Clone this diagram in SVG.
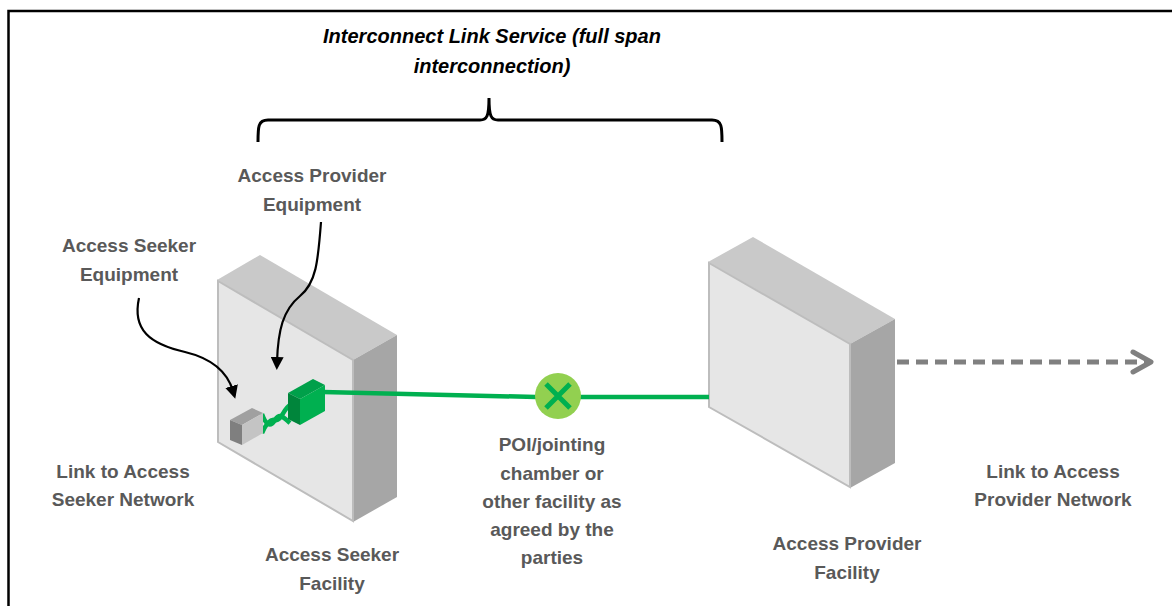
<svg xmlns="http://www.w3.org/2000/svg" width="1172" height="606" viewBox="0 0 1172 606">
  <style>
    .lbl { font-family: "Liberation Sans", Arial, sans-serif; font-weight: bold; font-size: 19px; fill: #595959; text-anchor: middle; }
    .title { font-family: "Liberation Sans", Arial, sans-serif; font-weight: bold; font-style: italic; font-size: 20px; fill: #000; text-anchor: middle; }
    .front { fill: #e6e6e6; stroke: #bdbdbd; stroke-width: 2; }
    .top { fill: #c9c9c9; }
    .side { fill: #a6a6a6; }
    .callout { fill: none; stroke: #000; stroke-width: 2.2; }
    .lead { fill: none; stroke: #00b050; stroke-width: 4.5; }
  </style>
  <defs>
    <marker id="ah" markerWidth="13" markerHeight="13" refX="5" refY="6.5" orient="auto" markerUnits="userSpaceOnUse" viewBox="0 0 13 13">
      <path d="M0,0 L13,6.5 L0,13 Z" fill="#000"/>
    </marker>
  </defs>

  <rect width="1172" height="606" fill="#fff"/>
  <!-- outer frame -->
  <path d="M8.5,606 L8.5,11 L1172,11" fill="none" stroke="#000" stroke-width="2.5"/>

  <!-- service span brace and title -->
  <g id="service">
    <text class="title" x="492" y="43">Interconnect Link Service (full span</text>
    <text class="title" x="492" y="73">interconnection)</text>
    <path d="M258,142 C258,127 258,120 268,120 L480,120 C487,120 489,116 489,98 C489,116 491,120 498,120 L712,120 C722,120 722,127 722,142" fill="none" stroke="#000" stroke-width="3"/>
  </g>

  <!-- seeker facility cabinet -->
  <g id="seeker-facility">
    <polygon class="top" points="217,280 260,255 397,335 353,360"/>
    <polygon class="side" points="353,360 397,335 397,497 353,522"/>
    <polygon class="front" points="218,281 353,360 353,521 218,442"/>
    <text class="lbl" x="332" y="561">Access Seeker</text>
    <text class="lbl" x="332" y="590">Facility</text>
  </g>

  <!-- provider facility cabinet -->
  <g id="provider-facility">
    <polygon class="top" points="708,262 753,237 895,319 850,344"/>
    <polygon class="side" points="850,344 895,319 895,463 850,488"/>
    <polygon class="front" points="709,263 850,344 850,487 709,407"/>
    <text class="lbl" x="847" y="550">Access Provider</text>
    <text class="lbl" x="847" y="579">Facility</text>
  </g>

  <!-- connectors -->
  <g id="connectors">
    <!-- fibre link -->
    <path d="M323,392 L536,397" stroke="#00b050" stroke-width="4.5" fill="none"/>
    <path d="M580,397 L709,397" stroke="#00b050" stroke-width="4.5" fill="none"/>
    <!-- twisted patch lead between equipment -->
    <path class="lead" d="M262,433 C266,424 270,418 275,420 C281,422 284,408 290,405"/>
    <path class="lead" d="M262,414 C266,425 270,428 275,420 C280,412 284,418 290,423"/>
    <!-- onward link to provider network -->
    <path d="M897,362 L1146,362" stroke="#808080" stroke-width="5" stroke-dasharray="12,7" fill="none"/>
    <path d="M1133,352 L1151,362 L1133,372" stroke="#808080" stroke-width="5" fill="none" stroke-linecap="round" stroke-linejoin="round"/>
    <!-- callouts -->
    <path class="callout" d="M321,222 C318,262 316,283 300,296 C283,310 278,330 277,362" marker-end="url(#ah)"/>
    <path class="callout" d="M139,298 C132,330 150,344 185,352 C214,359 228,374 233,391" marker-end="url(#ah)"/>
  </g>

  <!-- seeker equipment -->
  <g id="seeker-equipment">
    <polygon points="230,420 252,408 263,413 242,425" fill="#a0a0a0"/>
    <polygon points="230,420 242,425 242,445 230,440" fill="#7f7f7f"/>
    <polygon points="242,425 263,413 263,433 242,445" fill="#c4c4c4"/>
    <text class="lbl" x="129" y="252">Access Seeker</text>
    <text class="lbl" x="129" y="281">Equipment</text>
  </g>

  <!-- provider equipment -->
  <g id="provider-equipment">
    <polygon points="288,393 313,379 325,385 300,399" fill="#00a04a"/>
    <polygon points="288,393 300,399 300,425 288,419" fill="#00853b"/>
    <polygon points="300,399 325,385 325,411 300,425" fill="#00b050"/>
    <text class="lbl" x="312" y="182">Access Provider</text>
    <text class="lbl" x="312" y="211">Equipment</text>
  </g>

  <!-- point of interconnection -->
  <g id="poi">
    <circle cx="558" cy="396" r="23" fill="#92d050"/>
    <path d="M546,384 L570,408 M570,384 L546,408" stroke="#00b050" stroke-width="5" stroke-linecap="butt"/>
    <text class="lbl" x="552" y="451">POI/jointing</text>
    <text class="lbl" x="552" y="480">chamber or</text>
    <text class="lbl" x="552" y="508">other facility as</text>
    <text class="lbl" x="552" y="536">agreed by the</text>
    <text class="lbl" x="552" y="564">parties</text>
  </g>

  <g id="seeker-network">
    <text class="lbl" x="123" y="478">Link to Access</text>
    <text class="lbl" x="123" y="506">Seeker Network</text>
  </g>

  <g id="provider-network">
    <text class="lbl" x="1053" y="478">Link to Access</text>
    <text class="lbl" x="1053" y="506">Provider Network</text>
  </g>
</svg>
